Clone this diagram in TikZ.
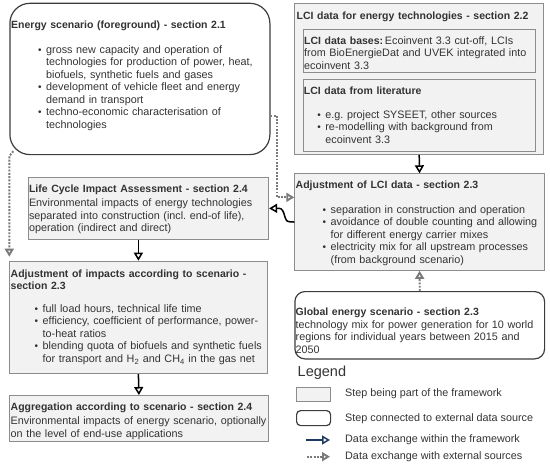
\documentclass[tikz,border=0pt]{standalone}
\usepackage{fontspec}
\setmainfont{Liberation Sans}
\usepackage{enumitem}
\usetikzlibrary{arrows.meta, positioning}
\definecolor{fwfill}{HTML}{F2F2F2}
\definecolor{fwline}{HTML}{8C8C8C}
\definecolor{extline}{HTML}{3C3C3C}
\definecolor{txtgray}{HTML}{333333}
\definecolor{dotgray}{HTML}{7A7A7A}
\definecolor{legnavy}{HTML}{1F3A5F}
\frenchspacing
\setlist[itemize]{label={\fontsize{10}{10}\selectfont\textbullet},
  nosep, labelsep=4.6pt, partopsep=0pt}
\newcommand{\bodyfont}{\fontsize{10.8}{12.5}\selectfont}
\newcommand{\ttl}[1]{{\fontsize{10.5}{12.5}\selectfont\bfseries #1}}
\tikzset{
  fwbox/.style 2 args={
    rectangle, anchor=north west, inner sep=0pt,
    minimum width=#1, minimum height=#2,
    draw=fwline, fill=fwfill, line width=0.8pt
  },
  extbox/.style n args={3}{
    rectangle, rounded corners=#3, anchor=north west, inner sep=0pt,
    minimum width=#1, minimum height=#2,
    draw=extline, fill=white, line width=1.2pt
  },
  boxtext/.style={
    anchor=north west, inner sep=0pt, text width=280pt,
    align=left, font=\bodyfont, text=txtgray
  },
  legtext/.style={anchor=west, inner sep=0pt, font=\bodyfont, text=txtgray},
  fwarrow/.style={-{Triangle[open, length=8pt, width=9pt]}, line width=1.5pt, draw=black},
  extarrow/.style={-{Triangle[open, length=8pt, width=9pt]}, line width=1.9pt,
    draw=dotgray, dash pattern=on 1.9pt off 1.4pt},
}
\begin{document}
\begin{tikzpicture}[x=1pt, y=-1pt]
  \useasboundingbox (0,0) rectangle (550,471);
  % boxes
  \node[extbox={260pt}{151.3pt}{20pt}] (esc) at (9.3,2.7) {};
  \node[fwbox={249pt}{150.7pt}] (lcidata) at (294.3,3.3) {};
  \node[fwbox={232.3pt}{43.3pt}] (lcibases) at (302.7,29) {};
  \node[fwbox={232.3pt}{72pt}] (lcilit) at (302.7,79) {};
  \node[fwbox={249.7pt}{96.7pt}] (adjlci) at (294.3,173.3) {};
  \node[fwbox={240pt}{62.6pt}] (lcia) at (28.3,176.7) {};
  \node[fwbox={257.4pt}{112.6pt}] (adjimp) at (9.3,260.7) {};
  \node[fwbox={258.4pt}{45.7pt}] (aggr) at (9.3,395) {};
  \node[extbox={249.7pt}{67.3pt}{10pt}] (glob) at (294.3,291) {};
  % texts
  \node[boxtext] (esc-txt) at (11,20.2) {\ttl{Energy scenario (foreground) - section 2.1}
    \begin{itemize}[leftmargin=35pt, topsep=12.8pt]
      \item gross new capacity and operation of\\
        technologies for production of power, heat,\\
        biofuels, synthetic fuels and gases
      \item development of vehicle fleet and energy\\
        demand in transport
      \item techno-economic characterisation of\\
        technologies
    \end{itemize}};
  \node[boxtext] (lcidata-ttl) at (296.5,11.2) {\ttl{LCI data for energy technologies - section 2.2}};
  \node[boxtext] (lcibases-txt) at (304,36.2) {\ttl{LCI data bases:}\,Ecoinvent 3.3 cut-off, LCIs\\
    from BioEnergieDat and UVEK integrated into\\
    ecoinvent 3.3};
  \node[boxtext] (lcilit-txt) at (303.7,86.2) {\ttl{LCI data from literature}
    \begin{itemize}[leftmargin=21.5pt, topsep=11.8pt]
      \item e.g. project SYSEET, other sources
      \item re-modelling with background from\\
        ecoinvent 3.3
    \end{itemize}};
  \node[boxtext] (adjlci-txt) at (295.5,180.2) {\ttl{Adjustment of LCI data - section 2.3}
    \begin{itemize}[leftmargin=35pt, topsep=12.5pt]
      \item separation in construction and operation
      \item avoidance of double counting and allowing\\
        for different energy carrier mixes
      \item electricity mix for all upstream processes\\
        (from background scenario)
    \end{itemize}};
  \node[boxtext] (lcia-txt) at (28.8,184.2) {\ttl{Life Cycle Impact Assessment - section 2.4}\\[2.2pt]
    Environmental impacts of energy technologies\\
    separated into construction (incl. end-of life),\\
    operation (indirect and direct)};
  \node[boxtext] (adjimp-txt) at (10.5,269.5) {\ttl{Adjustment of impacts according to scenario -}\\
    \ttl{section 2.3}
    \begin{itemize}[leftmargin=32pt, topsep=10.1pt]
      \item full load hours, technical life time
      \item efficiency, coefficient of performance, power-\\
        to-heat ratios
      \item blending quota of biofuels and synthetic fuels\\
        for transport and H\textsubscript{2} and CH\textsubscript{4} in the gas net
    \end{itemize}};
  \node[boxtext] (aggr-txt) at (10.5,402.9) {\ttl{Aggregation according to scenario - section 2.4}\\[1.5pt]
    Environmental impacts of energy scenario, optionally\\
    on the level of end-use applications};
  \node[boxtext] (glob-txt) at (295.5,307.2) {\ttl{Global energy scenario - section 2.3}\\[0.5pt]
    technology mix for power generation for 10 world\\
    regions for individual years between 2015 and\\
    2050};
  % connectors
  \draw[fwarrow] (lcidata.south) -- (adjlci.north);
  \draw[fwarrow] (adjimp.north |- lcia.south) -- (adjimp.north);
  \draw[fwarrow] (adjimp.south) -- (aggr.north);
  \draw[fwarrow] (adjlci.west) -- (289,221.7)
    .. controls (283.5,221.7) and (285.5,208.3) .. (279,208.3) -- (lcia.east);
  \draw[extarrow] (glob.north) -- (adjlci.south);
  \draw[extarrow] ([yshift=-36.6pt]esc.east) -- ++(6.5,0) |- ([yshift=24.7pt]adjlci.west);
  \draw[extarrow] ([shift={(4pt,4pt)}]esc.south west) -- ([yshift=-1pt]esc.south west)
    -- ([yshift=4pt]adjimp.north west);
  % legend
  \node[legtext, font=\fontsize{14.5}{16}\selectfont] (leg-ttl) at (297.5,372.7) {Legend};
  \node[fwbox={34pt}{13.4pt}] (leg-fw) at (296,387.3) {};
  \node[extbox={34pt}{15pt}{4pt}] (leg-ext) at (296,410) {};
  \coordinate (leg-a1) at (306,440);
  \coordinate (leg-a2) at (330,440);
  \coordinate (leg-b1) at (307,456.7);
  \coordinate (leg-b2) at (330,456.7);
  \draw[fwarrow, draw=legnavy] (leg-a1) -- (leg-a2);
  \draw[extarrow] (leg-b1) -- (leg-b2);
  \node[legtext] (leg-fw-txt) at (345,393.3) {Step being part of the framework};
  \node[legtext] (leg-ext-txt) at (345,418.3) {Step connected to external data source};
  \node[legtext] (leg-a-txt) at (345,440) {Data exchange within the framework};
  \node[legtext] (leg-b-txt) at (345,456.7) {Data exchange with external sources};
\end{tikzpicture}
\end{document}
